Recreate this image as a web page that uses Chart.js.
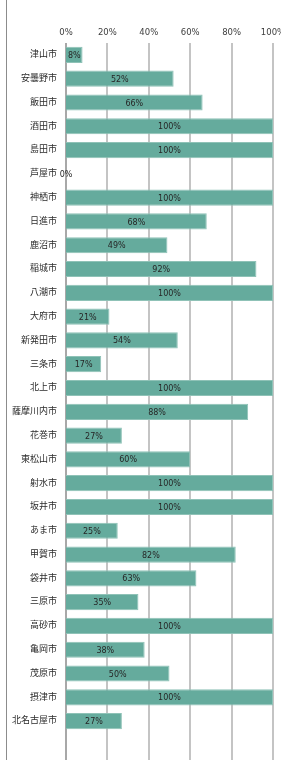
<!DOCTYPE html>
<html>
<head>
<meta charset="utf-8">
<script src="https://cdn.jsdelivr.net/npm/chart.js@4"></script>
<style>
  html, body { margin: 0; padding: 0; background: #fff; }
  #wrap { position: relative; width: 281px; height: 760px; overflow: hidden; }
  #edge { position: absolute; left: 6px; top: 0; width: 1px; height: 760px; background: #8c8c8c; }
</style>
</head>
<body>
<div id="wrap">
  <div id="edge"></div>
  <canvas id="rate" width="281" height="760"></canvas>
</div>
<script>
const cities = [
  "津山市", "安曇野市", "飯田市", "酒田市", "島田市", "芦屋市", "神栖市",
  "日進市", "鹿沼市", "稲城市", "八潮市", "大府市", "新発田市", "三条市",
  "北上市", "薩摩川内市", "花巻市", "東松山市", "射水市", "坂井市", "あま市",
  "甲賀市", "袋井市", "三原市", "高砂市", "亀岡市", "茂原市", "摂津市", "北名古屋市",
];
const rates = [
  8, 52, 66, 100, 100, 0, 100,
  68, 49, 92, 100, 21, 54, 17,
  100, 88, 27, 60, 100, 100, 25,
  82, 63, 35, 100, 38, 50, 100, 27,
];
const tickValues = [0, 20, 40, 60, 80, 100];

const FONT = '"DejaVu Sans", "Noto Sans CJK JP", sans-serif';

// value label in the middle of each bar
const barLabels = {
  id: "barLabels",
  afterDatasetsDraw(chart) {
    const ctx = chart.ctx;
    const meta = chart.getDatasetMeta(0);
    ctx.save();
    ctx.font = "8px " + FONT;
    ctx.fillStyle = "#262626";
    ctx.textAlign = "center";
    ctx.textBaseline = "middle";
    meta.data.forEach((bar, i) => {
      const x = (bar.x + bar.base) / 2;
      ctx.fillText(rates[i] + "%", x, bar.y + 1);
    });
    ctx.restore();
  },
};

// vertical gridlines, drawn from the top of the plot to the bottom of the picture
const gridLines = {
  id: "gridLines",
  beforeDatasetsDraw(chart) {
    const ctx = chart.ctx;
    const xs = chart.scales.x;
    const area = chart.chartArea;
    ctx.save();
    tickValues.forEach((v, i) => {
      const x = Math.round(xs.getPixelForValue(v)) - 1;
      ctx.fillStyle = i === 0 ? "#a8a8a8" : "#c4c4c4";
      ctx.fillRect(x, area.top, 2, chart.height - area.top);
    });
    ctx.restore();
  },
};

new Chart(document.getElementById("rate"), {
  type: "bar",
  data: {
    labels: cities,
    datasets: [
      {
        data: rates,
        backgroundColor: "#65ab9d",
        borderColor: "#8fc2b7",
        borderWidth: 1,
        borderSkipped: "left",
        categoryPercentage: 1,
        barPercentage: 0.68,
      },
    ],
  },
  options: {
    indexAxis: "y",
    responsive: false,
    animation: false,
    devicePixelRatio: 1,
    layout: {
      padding: { top: 24, right: 8, bottom: 27, left: 0 },
    },
    plugins: {
      legend: { display: false },
      tooltip: { enabled: false },
    },
    scales: {
      x: {
        position: "top",
        min: 0,
        max: 100,
        afterFit: (scale) => {
          scale.height = 19;
          scale.paddingLeft = 0;
          scale.paddingRight = 0;
        },
        grid: { display: false, drawTicks: false },
        border: { display: false },
        ticks: {
          stepSize: 20,
          padding: 5,
          color: "#404040",
          font: { family: FONT, size: 8.5 },
          callback: (v) => v + "%",
        },
      },
      y: {
        afterFit: (scale) => {
          scale.width = 66;
        },
        grid: { display: false, drawTicks: false },
        border: { display: false },
        ticks: {
          padding: 9,
          color: "#2b2b2b",
          font: { family: FONT, size: 9 },
        },
      },
    },
  },
  plugins: [gridLines, barLabels],
});
</script>
</body>
</html>
